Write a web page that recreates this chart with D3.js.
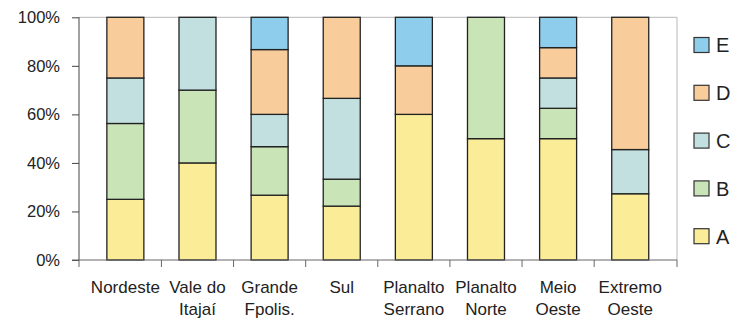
<!DOCTYPE html>
<html><head><meta charset="utf-8">
<script src="https://cdn.jsdelivr.net/npm/d3@7"></script>
<style>body{margin:0;background:#fff}svg{display:block;font-family:"Liberation Sans",Arial,sans-serif}</style>
</head><body><svg id="c" width="733" height="320"></svg>
<script>
const categories = [["Nordeste"],["Vale do","Itajaí"],["Grande","Fpolis."],["Sul"],["Planalto","Serrano"],["Planalto","Norte"],["Meio","Oeste"],["Extremo","Oeste"]];
const seriesNames = ["A","B","C","D","E"];
const A = [25, 40, 26.7, 22.2, 60, 50, 50, 27.3];
const B = [31.25, 30, 20, 11.1, 0, 50, 12.5, 0];
const C = [18.75, 30, 13.3, 33.3, 0, 0, 12.5, 18.2];
const D = [25, 0, 26.7, 33.4, 20, 0, 12.5, 54.5];
const E = [0, 0, 13.3, 0, 20, 0, 12.5, 0];
const yTicks = [0, 20, 40, 60, 80, 100];
const colors = {A:"#fbec97", B:"#c9e4b6", C:"#c1e0df", D:"#f9cd9b", E:"#8ecdeb"};

(function(){
const vals = {A, B, C, D, E};
const rows = categories.map((c, i) => { const r = {key: i}; seriesNames.forEach(s => r[s] = vals[s][i]); return r; });
const stack = d3.stack().keys(seriesNames)(rows);

const svg = d3.select("#c");
const pL = 79, pR = 677, pT = 17.3, pB = 260;
const x = d3.scaleBand().domain(d3.range(categories.length)).range([89.3, 666.3]).paddingInner(0.487).paddingOuter(0.2435);
const y = d3.scaleLinear().domain([0, 100]).range([pB, pT]);

svg.append("line").attr("x1", pL).attr("x2", pR).attr("y1", pT).attr("y2", pT).attr("stroke", "#b8b8b8").attr("stroke-width", 1);
svg.append("line").attr("x1", pR).attr("x2", pR).attr("y1", pT).attr("y2", pB).attr("stroke", "#b8b8b8").attr("stroke-width", 1);

stack.forEach(layer => {
  svg.append("g").selectAll("rect").data(layer.filter(d => d[1] - d[0] > 0)).join("rect")
    .attr("x", d => x(d.data.key))
    .attr("width", x.bandwidth())
    .attr("y", d => y(d[1]))
    .attr("height", d => y(d[0]) - y(d[1]))
    .attr("fill", colors[layer.key])
    .attr("stroke", "#222").attr("stroke-width", 1.3);
});

const yAxis = d3.axisLeft(y).tickValues(yTicks).tickFormat(d => d + "%").tickSize(7).tickPadding(12);
const gy = svg.append("g").attr("transform", `translate(${pL},0)`).call(yAxis);
gy.select(".domain").attr("stroke", "#444").attr("d", `M0,${pT}V${pB}`);
gy.selectAll(".tick line").attr("stroke", "#444");
gy.selectAll("text").attr("font-size", 16.5).attr("fill", "#222").attr("font-family", "Liberation Sans, Arial, sans-serif");

const gx = svg.append("g");
gx.append("line").attr("x1", pL - 7).attr("x2", pR).attr("y1", pB).attr("y2", pB).attr("stroke", "#666");
const step = x.step();
const bounds = [pL].concat(d3.range(1, categories.length).map(i => x(i) - (step - x.bandwidth()) / 2)).concat([pR]);
gx.selectAll(".xt").data(bounds).join("line").attr("x1", d => d).attr("x2", d => d).attr("y1", pB).attr("y2", pB + 7).attr("stroke", "#666");
const lbl = gx.selectAll(".xl").data(categories).join("text")
  .attr("text-anchor", "middle").attr("font-size", 17).attr("fill", "#222");
lbl.each(function(c, i) {
  const t = d3.select(this);
  c.forEach((line, j) => t.append("tspan").attr("x", x(i) + x.bandwidth() / 2).attr("y", 293 + j * 22).text(line));
});

const lg = svg.append("g");
const legendOrder = ["E","D","C","B","A"];
legendOrder.forEach((s, i) => {
  const cy = 45 + i * 47.8;
  lg.append("rect").attr("x", 694).attr("y", cy - 7.5).attr("width", 15).attr("height", 15).attr("fill", colors[s]).attr("stroke", "#333").attr("stroke-width", 1.2);
  lg.append("text").attr("x", 716).attr("y", cy + 7.3).attr("font-size", 20).attr("fill", "#222").text(s);
});
})();
</script></body></html>
